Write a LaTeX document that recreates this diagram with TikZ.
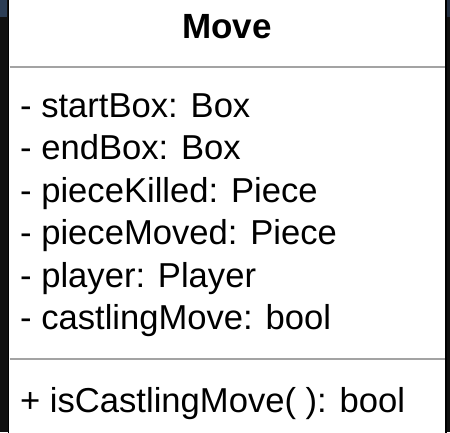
\documentclass[tikz,border=0pt]{standalone}
\usepackage{fontspec}
\setmainfont{Liberation Sans}
\definecolor{darkbg}{HTML}{101010}
\definecolor{bluebg}{HTML}{2B3D55}
\definecolor{sepgray}{HTML}{A3A3A3}
\begin{document}
\begin{tikzpicture}[x=1pt,y=-1pt,
  attr/.style={anchor=base west,inner sep=0pt,font=\fontsize{34.6}{42}\selectfont},
  titletext/.style={anchor=base,inner sep=0pt,font=\fontsize{35}{42}\selectfont\bfseries},
  sepline/.style={draw=sepgray,line width=2.2pt}]
\useasboundingbox (0,0) rectangle (450,432);
% background outside the box
\fill[darkbg] (0,0) rectangle (450,432);
\fill[bluebg] (0,0) rectangle (7,17);
\fill[bluebg!70!darkbg] (447,0) rectangle (450,17);
% class box
\fill[white] (8,-2) rectangle (446,434);
\draw[black,line width=1.8pt] (8.5,-2) -- (8.5,434);
\draw[black,line width=1.8pt] (445.8,-2) -- (445.8,434);
% title
\node[titletext] (title) at (227,38.5) {Move};
% separators
\coordinate (s1l) at (9.5,67);
\coordinate (s1r) at (445,67);
\coordinate (s2l) at (9.5,359);
\coordinate (s2r) at (445,359);
\draw[sepline] (s1l) -- (s1r);
\draw[sepline] (s2l) -- (s2r);
% attributes
\node[attr] (a1) at (20,117) {- startBox: Box};
\node[attr] (a2) at (20,159.5) {- endBox: Box};
\node[attr] (a3) at (20,202) {- pieceKilled: Piece};
\node[attr] (a4) at (20,244.5) {- pieceMoved: Piece};
\node[attr] (a5) at (20,287) {- player: Player};
\node[attr] (a6) at (20,329.5) {- castlingMove: bool};
% method
\node[attr] (m1) at (20,412) {+ isCastlingMove( ): bool};
\end{tikzpicture}
\end{document}
